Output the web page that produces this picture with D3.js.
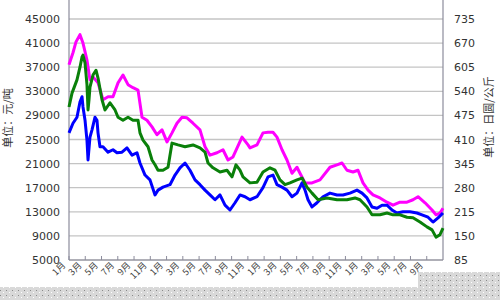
<!DOCTYPE html>
<html>
<head>
<meta charset="utf-8">
<script src="https://d3js.org/d3.v7.min.js"></script>
<style>
  body { margin: 0; background: #fff; }
  svg { display: block; }
</style>
</head>
<body>
<svg id="chart" width="500" height="300"></svg>
<script>
// ticks / labels
const leftTicks = [5000, 9000, 13000, 17000, 21000, 25000, 29000, 33000, 37000, 41000, 45000, 49000];
const rightTicks = [85, 150, 215, 280, 345, 410, 475, 540, 605, 670, 735, 800];
const monthLabels = ['1月','3月','5月','7月','9月','11月','1月','3月','5月','7月','9月','11月',
                     '1月','3月','5月','7月','9月','11月','1月','3月','5月','7月','9月'];

// month position along x
const magentaMonths = [0, 0.12, 0.49, 0.86, 1.35, 1.72, 2.21, 2.58, 2.95, 3.57, 4.18, 4.8, 5.41, 6.03, 6.64, 7.26, 7.87, 8.49, 8.98, 9.59,
  10.21, 10.82, 11.44, 12.05, 12.67, 13.28, 13.9, 14.51, 15.25, 16.11, 16.73, 17.34, 18.2, 18.94, 19.56, 20.17, 21.28, 22.02, 22.26, 23.12,
  23.86, 24.48, 25.09, 25.58, 26.2, 26.81, 27.43, 28.04, 28.41, 29.03, 29.89, 30.87, 32.1, 32.96, 33.58, 34.19, 34.93, 35.55, 36.16, 36.78,
  37.39, 38.25, 39.11, 39.85, 40.71, 41.57, 42.31, 42.93, 43.79, 44.65, 45.14, 45.63, 46];
const magentaValues = [37400, 37900, 39400, 41200, 42400, 41000, 38200, 34900, 35400, 34400, 31600, 32100, 32100, 34400, 35700, 34100, 33600, 33200, 28700, 28200,
  27100, 25800, 26600, 24600, 26100, 27700, 28700, 28600, 27700, 26600, 23800, 22400, 22800, 23300, 21600, 22100, 25400, 24100, 23600, 24100,
  26100, 26200, 26200, 25400, 23300, 21600, 19400, 20400, 19400, 17800, 17800, 18300, 20400, 20800, 21100, 19900, 19600, 19900, 17800, 16600,
  15800, 15300, 14600, 14100, 14600, 14600, 15000, 15500, 14500, 13300, 12500, 12800, 13600];

const greenMonths = [0, 0.37, 0.98, 1.35, 1.6, 1.72, 1.97, 2.21, 2.34, 2.46, 2.58, 2.95, 3.32, 3.57, 4.06, 4.43, 5.04, 5.66, 6.03, 6.64,
  7.26, 7.87, 8.49, 8.73, 9.1, 9.72, 10.21, 10.58, 10.95, 11.56, 12.18, 12.67, 13.41, 14.27, 15.25, 16.11, 16.73, 17.1, 17.71, 18.57,
  19.43, 20.05, 20.54, 21.03, 21.4, 22.26, 23.12, 23.86, 24.72, 25.34, 25.95, 26.57, 27.18, 28.04, 28.66, 29.27, 29.89, 30.63, 31.73, 32.96,
  34.19, 35.18, 35.79, 36.65, 37.27, 38.25, 39.11, 39.85, 40.71, 41.57, 42.31, 43.17, 44.03, 44.65, 45.14, 45.63, 46];
const greenValues = [30400, 32700, 34900, 37000, 38700, 39000, 37700, 34100, 29900, 31600, 33700, 35700, 36500, 35200, 31600, 29900, 31100, 29900, 28700, 28200,
  28700, 28200, 28200, 26100, 24900, 23800, 21600, 20800, 19900, 19900, 20400, 24400, 24100, 23800, 24100, 23600, 22900, 21100, 20300, 19600,
  19900, 18800, 20800, 19900, 18800, 17800, 17900, 19600, 20300, 19900, 18300, 17500, 17800, 18300, 18600, 17100, 16100, 15000, 15300, 15000,
  15000, 15300, 15000, 13800, 12500, 12500, 12800, 12500, 12500, 12100, 12000, 11300, 10500, 10000, 8800, 9200, 10300];

const blueMonths = [0, 0.49, 0.98, 1.35, 1.6, 1.72, 1.97, 2.21, 2.34, 2.58, 2.83, 3.2, 3.44, 3.57, 3.81, 4.18, 4.8, 5.41, 5.9, 6.52,
  7.13, 7.75, 8.36, 8.73, 9.35, 9.96, 10.58, 10.95, 11.56, 12.42, 13.04, 13.65, 14.27, 14.88, 15.5, 16.11, 16.73, 17.34, 17.96, 18.57,
  19.19, 19.8, 20.42, 21.03, 21.65, 22.26, 23.12, 23.86, 24.48, 25.09, 25.58, 26.2, 26.81, 27.43, 28.04, 28.66, 29.03, 29.4, 29.89, 30.5,
  31.24, 32.1, 32.96, 33.7, 34.56, 35.42, 36.04, 36.65, 37.27, 37.88, 38.5, 39.11, 39.73, 40.34, 41.08, 41.94, 42.8, 43.42, 44.16, 44.77,
  45.39, 46];
const blueValues = [26100, 27700, 28700, 31200, 32100, 30400, 28200, 24900, 21600, 25400, 26600, 28700, 28200, 26100, 23800, 23800, 22900, 23300, 22800, 22900,
  23600, 22400, 22800, 21100, 19100, 18300, 15800, 16600, 17100, 17500, 19100, 20300, 21100, 19900, 18300, 17500, 16600, 15800, 15000, 15800,
  14100, 13300, 14500, 15800, 15500, 15000, 15500, 17000, 18800, 19100, 17500, 17100, 16600, 15500, 16100, 17800, 16600, 15000, 13800, 14500,
  15500, 16100, 15800, 15800, 16100, 16600, 16100, 15300, 13800, 13600, 14100, 14100, 13300, 12800, 13000, 13000, 12800, 12500, 12100, 11300,
  12000, 12800];

const svg = d3.select('#chart');
const left = 69, right = 443, bottom = 260;

const x = d3.scaleLinear().domain([0, 46]).range([left, right]);
const y = d3.scaleLinear().domain([5000, 49000]).range([bottom, -5.1]);
const y2 = d3.scaleLinear().domain([85, 800]).range([bottom, -5.1]);

svg.append('rect').attr('width', 500).attr('height', 300).attr('fill', '#fff');

// dotted grey band at the bottom
const defs = svg.append('defs');
const pat = defs.append('pattern').attr('id', 'dots')
  .attr('patternUnits', 'userSpaceOnUse').attr('width', 6).attr('height', 5);
pat.append('rect').attr('width', 6).attr('height', 5).attr('fill', '#d9d9d9');
pat.append('rect').attr('x', 0).attr('y', 0).attr('width', 1).attr('height', 1).attr('fill', '#8a8a8a');
pat.append('rect').attr('x', 3).attr('y', 2).attr('width', 1).attr('height', 1).attr('fill', '#ffffff');
svg.append('rect').attr('x', 0).attr('y', 287).attr('width', 500).attr('height', 13).attr('fill', 'url(#dots)');
svg.append('rect').attr('x', 418).attr('y', 272).attr('width', 82).attr('height', 15).attr('fill', 'url(#dots)');

// gridlines
svg.append('g').selectAll('line').data(leftTicks).join('line')
  .attr('x1', left).attr('x2', right)
  .attr('y1', d => y(d)).attr('y2', d => y(d))
  .attr('stroke', '#c4c4c4').attr('stroke-width', 1.3);

// left labels
svg.append('g').selectAll('text').data(leftTicks).join('text')
  .attr('x', 60).attr('y', d => y(d) + 4)
  .attr('text-anchor', 'end')
  .attr('font-family', 'DejaVu Sans').attr('font-size', 11)
  .attr('fill', '#333').text(d => d);

// right labels
svg.append('g').selectAll('text').data(rightTicks).join('text')
  .attr('x', 454).attr('y', d => y2(d) + 4)
  .attr('font-family', 'DejaVu Sans').attr('font-size', 11)
  .attr('fill', '#333').text(d => d);

// axis frame
svg.append('line').attr('x1', left).attr('x2', left).attr('y1', -5).attr('y2', bottom)
  .attr('stroke', '#8c8c9c').attr('stroke-width', 1.2);
svg.append('line').attr('x1', right).attr('x2', right).attr('y1', -5).attr('y2', bottom)
  .attr('stroke', '#8c8c9c').attr('stroke-width', 1.2);
svg.append('line').attr('x1', left).attr('x2', right).attr('y1', bottom).attr('y2', bottom)
  .attr('stroke', '#8c8c9c').attr('stroke-width', 1.2);

// bottom ticks + month labels
const tickPos = monthLabels.map((d, i) => i * 2);
svg.append('g').selectAll('line').data(tickPos).join('line')
  .attr('x1', d => x(d)).attr('x2', d => x(d))
  .attr('y1', bottom - 4).attr('y2', bottom)
  .attr('stroke', '#8c8c9c');
svg.append('g').selectAll('text').data(monthLabels).join('text')
  .attr('transform', (d, i) => `translate(${x(i * 2) - 3},${bottom + 6}) rotate(-45)`)
  .attr('text-anchor', 'end')
  .attr('font-family', 'Noto Sans CJK SC').attr('font-size', 9)
  .attr('fill', '#444').text(d => d);

// axis titles
svg.append('text')
  .attr('transform', 'translate(12,118) rotate(-90)')
  .attr('text-anchor', 'middle')
  .attr('font-family', 'Noto Sans CJK SC').attr('font-size', 11)
  .attr('fill', '#333').text('单位：元/吨');
svg.append('text')
  .attr('transform', 'translate(493,117) rotate(-90)')
  .attr('text-anchor', 'middle')
  .attr('font-family', 'Noto Sans CJK SC').attr('font-size', 11)
  .attr('fill', '#333').text('单位：日圆/公斤');

// series
const line = d3.line().x(d => x(d[0])).y(d => y(d[1]));
const series = [
  { months: magentaMonths, values: magentaValues, color: '#ff00ff' },
  { months: blueMonths, values: blueValues, color: '#0000ff' },
  { months: greenMonths, values: greenValues, color: '#0a800a' }
];
series.forEach(s => {
  svg.append('path')
    .datum(d3.zip(s.months, s.values))
    .attr('d', line)
    .attr('fill', 'none')
    .attr('stroke', s.color)
    .attr('stroke-width', 3)
    .attr('stroke-linejoin', 'round');
});
</script>
</body>
</html>
